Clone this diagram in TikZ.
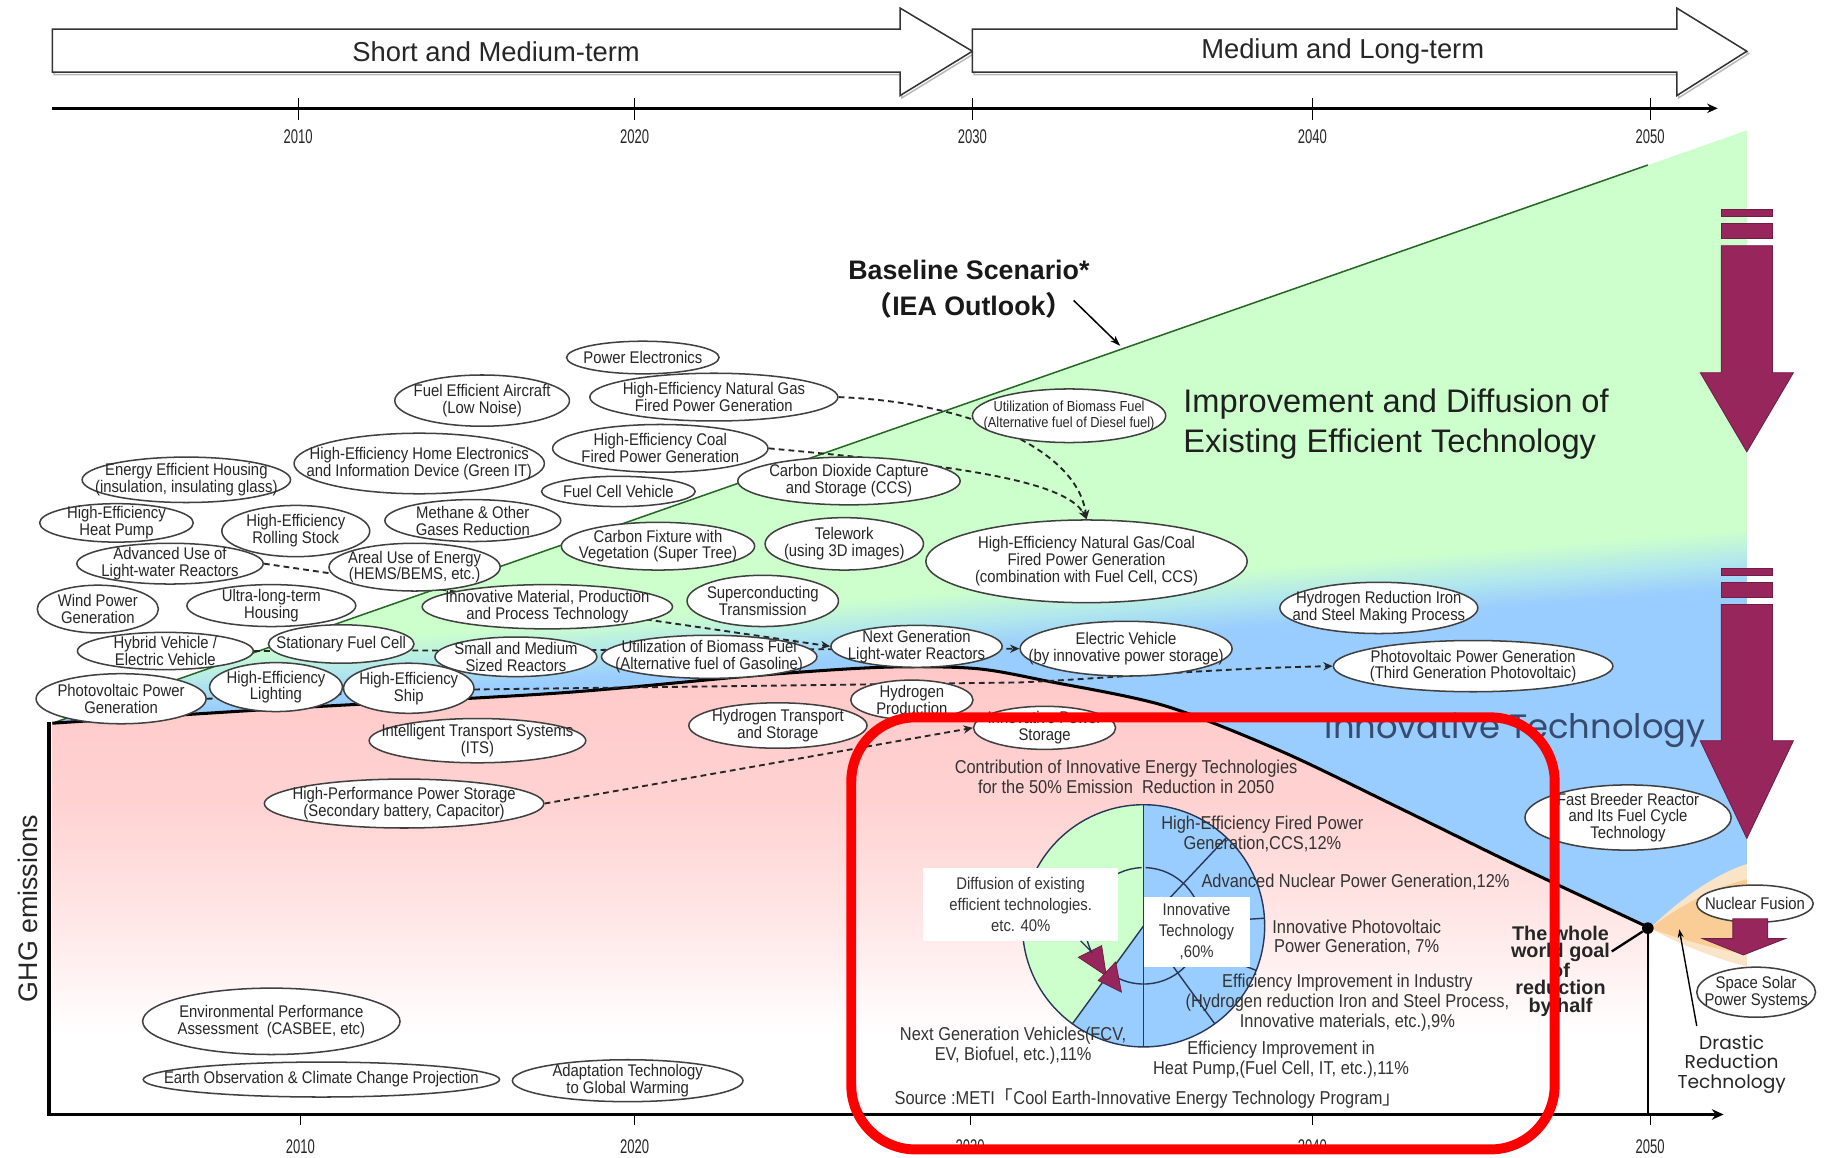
\documentclass[tikz,border=0pt]{standalone}
\usepackage{fontspec}
\setmainfont{Liberation Sans}
\newfontfamily\nar[FakeStretch=0.88]{Liberation Sans}
\newfontfamily\yrf[FakeStretch=0.66]{Liberation Sans}
\newfontfamily\goth{Poppins}
\newfontfamily\cjk{Noto Sans CJK JP}
\usetikzlibrary{shapes.geometric,arrows.meta,calc}
\definecolor{lgrn}{RGB}{204,255,204}
\definecolor{skyb}{RGB}{153,204,255}
\definecolor{cyb}{RGB}{178,232,236}
\definecolor{pk}{RGB}{255,200,200}
\definecolor{pkb}{RGB}{255,210,210}
\definecolor{pkc}{RGB}{255,232,232}
\definecolor{orng}{RGB}{250,205,150}
\definecolor{orngl}{RGB}{250,228,200}
\definecolor{mag}{RGB}{150,38,92}
\definecolor{itxt}{RGB}{55,75,110}
\definecolor{pline}{RGB}{40,55,85}
\pgfdeclareverticalshading{pksh}{100bp}{color(0bp)=(white); color(34bp)=(white); color(46bp)=(pkc); color(60bp)=(pkb); color(75bp)=(pk); color(100bp)=(pk)}
\pgfdeclarelayer{back}
\pgfdeclarelayer{mid}
\pgfsetlayers{back,mid,main}
\begin{document}
\begin{tikzpicture}[x=1pt,y=-1pt,
 el/.style={ellipse, draw=black!75, line width=1.3pt, fill=white, inner xsep=-40pt, inner ysep=-12pt, align=center, text=black!85, font=\nar\fontsize{14.5}{14.5}\selectfont},
 esz/.style 2 args={minimum width=#1pt, minimum height=#2pt},
 dconn/.style={line width=1.6pt, black!85, dash pattern=on 5pt off 3.5pt, -{Stealth[length=8pt,width=7pt]}},
 yrlab/.style={font=\yrf\fontsize{17}{17}\selectfont, text=black!85, inner sep=0pt},
 tarr/.style={draw=black!80, line width=1.3pt, fill=white},
 toplab/.style={font=\fontsize{23.5}{24}\selectfont, text=black!85, inner sep=0pt},
 ptxt/.style={font=\nar\fontsize{16}{17}\selectfont, text=black!80, align=center, inner sep=0pt},
 wbox/.style={fill=white, inner sep=0pt, align=center, font=\nar\fontsize{14.5}{18}\selectfont, text=black!80},
 pieline/.style={pline, line width=1.2pt},
 marr/.style={fill=mag, draw=mag!75!black, line width=0.7pt},
]
\begin{pgfonlayer}{back}
\fill[white] (0,0) rectangle (1568,994);
\useasboundingbox (0,0) rectangle (1568,994);
% pink region under curve
\shade[shading=pksh] plot[smooth,tension=0.5] coordinates {(45,621) (250,608) (481,595) (650,580) (757,573) (837,574) (900,585) (1000,606) (1100,645) (1200,693) (1300,742) (1417,797)} -- (1417,957) -- (45,957) -- cycle;
% green / blue region with tilted transition band
\begin{scope}
\clip plot[smooth,tension=0.5] coordinates {(45,621) (250,608) (481,595) (650,580) (757,573) (837,574) (900,585) (1000,606) (1100,645) (1200,693) (1300,742) (1417,797)} -- (1500,752) -- (1500,112) -- cycle;
\fill[lgrn] (0,100) rectangle (1568,830);
\fill[skyb] (0,622) -- (1568,498.6) -- (1568,830) -- (0,830) -- cycle;
\foreach \i in {0,...,19}{
  \ifnum\i<10 \pgfmathtruncatemacro\p{\i*10+5}\colorlet{bandc}{cyb!\p!lgrn}\else \pgfmathtruncatemacro\p{(\i-10)*10+5}\colorlet{bandc}{skyb!\p!cyb}\fi
  \fill[bandc] (0,574+\i*2.5) -- (1568,450.6+\i*2.5) -- (1568,453.8+\i*2.5) -- (0,577.2+\i*2.5) -- cycle;
}
\end{scope}
% orange fan
\fill[orngl] (1417,797) .. controls (1450,765) and (1480,748) .. (1500,742) -- (1500,830) .. controls (1470,822) and (1440,810) .. (1417,797) -- cycle;
\fill[orng] (1417,797) .. controls (1450,772) and (1480,760) .. (1500,755) -- (1500,820) .. controls (1470,814) and (1440,806) .. (1417,797) -- cycle;
% baseline
\draw[green!30!black!85, line width=1.3pt] (45,621) -- (1415,141.7);
% emission curve
\draw[line width=2.6pt, line join=round] plot[smooth,tension=0.5] coordinates {(45,621) (250,608) (481,595) (650,580) (757,573) (837,574) (900,585) (1000,606) (1100,645) (1200,693) (1300,742) (1417,797)};
% axes
\draw[line width=3pt] (42,957) -- (42,620);
\draw[line width=3pt, -{Stealth[length=10pt,width=9pt]}] (40,957) -- (1480,957);
\draw[line width=2.8pt, -{Stealth[length=9pt,width=8pt]}] (45,93) -- (1475,93);
\end{pgfonlayer}

% top arrows
\draw[gray!55, line width=1.3pt, shift={(1.5,2)}] (45,25) -- (773,25) -- (773,7) -- (835,44) -- (773,82) -- (773,62) -- (45,62) -- cycle;
\draw[tarr] (45,25) -- (773,25) -- (773,7) -- (835,44) -- (773,82) -- (773,62) -- (45,62) -- cycle;
\draw[gray!55, line width=1.3pt, shift={(1.5,2)}] (835,25) -- (1440,25) -- (1440,7) -- (1500,44) -- (1440,82) -- (1440,62) -- (835,62) -- cycle;
\draw[tarr] (835,25) -- (1440,25) -- (1440,7) -- (1500,44) -- (1440,82) -- (1440,62) -- (835,62) -- cycle;
\node[toplab] (stm) at (426,44) {Short and Medium-term};
\node[toplab] (mlt) at (1153,44) {Medium and Long-term};

\foreach \x/\yy in {256/2010,545/2020,835/2030,1127/2040,1417/2050}{
  \draw[line width=0.9pt] (\x,84) -- (\x,103);
  \node[yrlab] (top\yy) at (\x,117) {\yy};
}
\foreach \x/\yy in {258/2010,545/2020,833/2030,1127/2040,1417/2050}{
  \draw[line width=0.9pt] (\x,957) -- (\x,966);
  \node[yrlab] (bot\yy) at (\x,985) {\yy};
}

% ellipses
\node[el, esz={131}{28}] (pe) at (552,307) {Power Electronics};
\node[el, esz={150}{44}] (fea) at (414,344) {Fuel Efficient Aircraft\\(Low Noise)};
\node[el, esz={213}{41}] (ngf) at (613,341) {High-Efficiency Natural Gas\\Fired Power Generation};
\node[el, esz={166}{46}, font=\nar\fontsize{12.5}{13.5}\selectfont] (bdi) at (918,357) {Utilization of Biomass Fuel\\(Alternative fuel of Diesel fuel)};
\node[el, esz={215}{52}] (hee) at (360,398) {High-Efficiency Home Electronics\\and Information Device (Green IT)};
\node[el, esz={185}{41}] (hcl) at (567,385) {High-Efficiency Coal\\Fired Power Generation};
\node[el, esz={179}{39}] (eeh) at (160,412) {Energy Efficient Housing\\(insulation, insulating glass)};
\node[el, esz={132}{26}] (fcv) at (531,422) {Fuel Cell Vehicle};
\node[el, esz={191}{41}] (ccs) at (729,413) {Carbon Dioxide Capture\\and Storage (CCS)};
\node[el, esz={132}{33}] (hhp) at (100,449) {High-Efficiency\\Heat Pump};
\node[el, esz={127}{44}] (hrs) at (254,456) {High-Efficiency\\Rolling Stock};
\node[el, esz={151}{36}] (mth) at (406,447) {Methane \& Other\\Gases Reduction};
\node[el, esz={166}{41}] (cfx) at (565,469) {Carbon Fixture with\\Vegetation (Super Tree)};
\node[el, esz={136}{45}] (tel) at (725,467) {Telework\\(using 3D images)};
\node[el, esz={276}{71}] (cmb) at (933,482) {High-Efficiency Natural Gas/Coal\\Fired Power Generation\\(combination with Fuel Cell, CCS)};
\node[el, esz={160}{35}] (adv) at (146,484) {Advanced Use of\\Light-water Reactors};
\node[el, esz={147}{41}] (are) at (356,487) {Areal Use of Energy\\(HEMS/BEMS, etc.)};
\node[el, esz={104}{41}] (wnd) at (84,523) {Wind Power\\Generation};
\node[el, esz={145}{36}] (ult) at (233,520) {Ultra-long-term\\Housing};
\node[el, esz={215}{38}] (inm) at (470,521) {Innovative Material, Production\\and Process Technology};
\node[el, esz={130}{44}] (sct) at (655,516) {Superconducting\\Transmission};
\node[el, esz={170}{44}] (hri) at (1184,522) {Hydrogen Reduction Iron\\and Steel Making Process};
\node[el, esz={151}{32}] (hyb) at (142,559) {Hybrid Vehicle /\\Electric Vehicle};
\node[el, esz={125}{33}] (sfc) at (293,553) {Stationary Fuel Cell};
\node[el, esz={139}{34}] (sms) at (443,564) {Small and Medium\\Sized Reactors};
\node[el, esz={185}{37}] (bga) at (609,564) {Utilization of Biomass Fuel\\(Alternative fuel of Gasoline)};
\node[el, esz={147}{36}] (ngl) at (787,555) {Next Generation\\Light-water Reactors};
\node[el, esz={182}{47}] (elv) at (967,557) {Electric Vehicle\\(by innovative power storage)};
\node[el, esz={240}{44}] (pv3) at (1265,572) {Photovoltaic Power Generation\\(Third Generation Photovoltaic)};
\node[el, esz={146}{43}] (pvp) at (104,600) {Photovoltaic Power\\Generation};
\node[el, esz={114}{42}] (hel) at (237,590) {High-Efficiency\\Lighting};
\node[el, esz={112}{43}] (hes) at (351,591) {High-Efficiency\\Ship};
\node[el, esz={105}{34}] (hpr) at (783,601) {Hydrogen\\Production};
\node[el, esz={153}{39}] (htr) at (668,623) {Hydrogen Transport\\and Storage};
\node[el, esz={122}{37}] (ips) at (897,625) {Innovative Power\\Storage};
\node[el, esz={186}{38}] (its) at (410,636) {Intelligent Transport Systems\\(ITS)};
\node[el, esz={240}{42}] (hps) at (347,690) {High-Performance Power Storage\\(Secondary battery, Capacitor)};
\node[el, esz={177}{56}] (fbr) at (1398,702) {Fast Breeder Reactor\\and Its Fuel Cycle\\Technology};
\node[el, esz={100}{32}] (nfu) at (1507,776) {Nuclear Fusion};
\node[el, esz={102}{43}] (sss) at (1508,852) {Space Solar\\Power Systems};
\node[el, esz={221}{57}] (env) at (233,877) {Environmental Performance\\Assessment\ \ (CASBEE, etc)};
\node[el, esz={306}{30}] (eob) at (276,927) {Earth Observation \& Climate Change Projection};
\node[el, esz={198}{36}] (ada) at (539,928) {Adaptation Technology\\to Global Warming};

% dashed connectors
\begin{pgfonlayer}{mid}
\draw[dconn] (adv.east) -- (ngl.west);
\draw[dconn] (hyb.east) -- (elv.west);
\draw[dconn] (pvp.east) -- (411,592) -- (876,586) .. controls (960,582) and (1040,574) .. (pv3.west);
\draw[dconn] (ngf.east) .. controls (830,345) and (925,385) .. (cmb.north);
\draw[dconn] (hcl.east) .. controls (800,398) and (915,410) .. (cmb.north);
\draw[dconn] (hps.east) -- (ips.west);
\end{pgfonlayer}

% baseline label
\node[font=\bfseries\fontsize{23}{31}\selectfont, align=center, text=black!90, inner sep=0pt] (bls) at (832,248) {Baseline Scenario*\\{\cjk （}IEA Outlook{\cjk ）}};
\coordinate (blA) at (922,258);
\coordinate (blB) at (962,297);
\draw[line width=1.3pt, -{Stealth[length=9pt,width=6pt]}] (blA) -- (blB);

\node[font=\fontsize{28}{34}\selectfont, align=left, anchor=west, text=black!88, inner sep=0pt] (imp) at (1016,364) {Improvement and Diffusion of\\Existing Efficient Technology};
\node[font=\goth\fontsize{29}{30}\selectfont, text=itxt, inner sep=0pt] (inv) at (1301,627) {Innovative Technology};
\node[rotate=90, font=\fontsize{23}{23}\selectfont, text=black!85, inner sep=0pt] (ghg) at (24,780) {GHG emissions};

% pie chart
\coordinate (pc) at (982,795);
\fill[lgrn] (pc) -- ++(-90:104) arc[start angle=-90, end angle=-234, radius=104] -- cycle;
\fill[skyb] (pc) -- ++(-234:104) arc[start angle=-234, end angle=-450, radius=104] -- cycle;
\foreach \a in {-90,-46.8,-3.6,21.6,54,90,-234}{\draw[pieline] (pc) -- ++(\a:104);}
\draw[pieline] (pc) circle[radius=104];
\draw[pieline] ($(pc)+(-92:50)$) arc[start angle=-92, end angle=-214, radius=50];
\draw[pieline] ($(pc)+(-88:50)$) arc[start angle=-88, end angle=128, radius=50];
% bow-tie arrow heads
\fill[mag, draw=mag!70!black, line width=0.6pt] (926,822) -- (946,812) -- (950,838) -- cycle;
\fill[mag, draw=mag!70!black, line width=0.6pt] (958,826) -- (963,852) -- (943,842) -- cycle;
\node[wbox, minimum width=167pt, minimum height=63pt] (dfb) at (876.5,776.5) {Diffusion of existing\\efficient technologies.\\etc. 40\%};
\node[wbox, minimum width=91pt, minimum height=60pt] (itb) at (1027.5,800) {Innovative\\Technology\\,60\%};
\coordinate (dlA) at (928,808);
\coordinate (dlB) at (938,818);
\draw[pieline] (dlA) -- (dlB);

\node[ptxt] (ptl) at (967,667) {Contribution of Innovative Energy Technologies\\for the 50\% Emission\ \ Reduction in 2050};
\node[ptxt] (l1) at (1084,716) {High-Efficiency Fired Power\\Generation,CCS,12\%};
\node[ptxt] (l2) at (1164,757) {Advanced Nuclear Power Generation,12\%};
\node[ptxt] (l3) at (1165,805) {Innovative Photovoltaic\\Power Generation, 7\%};
\node[ptxt] (l4) at (1157,861) {Efficiency Improvement in Industry\\(Hydrogen reduction Iron and Steel Process,\\Innovative materials, etc.),9\%};
\node[ptxt] (l5) at (870,898) {Next Generation Vehicles(FCV,\\EV, Biofuel, etc.),11\%};
\node[ptxt] (l6) at (1100,910) {Efficiency Improvement in\\Heat Pump,(Fuel Cell, IT, etc.),11\%};
\node[ptxt, anchor=west] (src) at (768,943) {Source :METI{\cjk 「}Cool Earth-Innovative Energy Technology Program{\cjk 」}};

% 2050 goal
\node[circle, fill=black, inner sep=0pt, minimum size=10pt] (dot) at (1415,797) {};
\coordinate (dotb) at (1415,957);
\draw[line width=1.6pt] (dot) -- (dotb);
\node[font=\bfseries\fontsize{17}{15}\selectfont, align=center, text=black!85, inner sep=0pt] (wgl) at (1340,834) {The whole\\world goal\\of\\reduction\\by half};
\coordinate (wglA) at (1384,817);
\draw[line width=2pt] (wglA) -- (dot);
\node[font=\goth\fontsize{16}{17}\selectfont, align=center, text=black!85, inner sep=0pt] (drt) at (1487,914) {Drastic\\Reduction\\Technology};
\coordinate (drA) at (1457,881);
\coordinate (drB) at (1442,798);
\draw[line width=1.2pt, -{Stealth[length=7pt,width=5pt]}] (drA) -- (drB);

% magenta arrows
\draw[marr] (1478,180) rectangle (1522,186);
\draw[marr] (1478,192) rectangle (1522,205);
\draw[marr] (1478,211) -- (1522,211) -- (1522,320) -- (1540,320) -- (1500,388) -- (1460,320) -- (1478,320) -- cycle;
\draw[marr] (1478,488) rectangle (1522,494);
\draw[marr] (1478,500) rectangle (1522,513);
\draw[marr] (1478,519) -- (1522,519) -- (1522,636) -- (1540,636) -- (1500,720) -- (1460,636) -- (1478,636) -- cycle;
\draw[marr] (1488,789) -- (1518,789) -- (1518,806) -- (1533,806) -- (1497,820) -- (1462,806) -- (1488,806) -- cycle;

% red frame
\draw[red, line width=8.5pt, rounded corners=55pt] (731,616) rectangle (1335,987);
\end{tikzpicture}
\end{document}
